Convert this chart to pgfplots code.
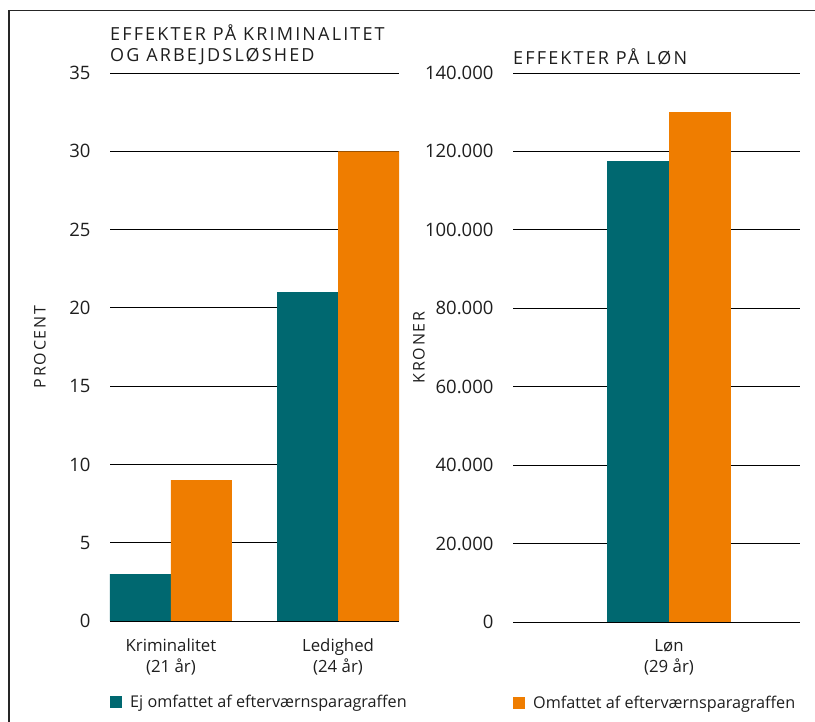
\documentclass[border=0pt]{standalone}
\usepackage{fontspec}
\setmainfont{Open Sans}
\newfontfamily\spaced[LetterSpace=12]{Open Sans}
\newfontfamily\wide[LetterSpace=11]{Open Sans}
\usepackage{pgfplots}
\pgfplotsset{compat=1.18}
\definecolor{teal1}{RGB}{0,104,112}
\definecolor{orng}{RGB}{239,125,0}
\definecolor{txt}{RGB}{30,30,30}
\pgfplotsset{
  common/.style={
    scale only axis,
    clip=false,
    axis line style={draw=none},
    major tick length=0pt,
    ymin=0,
    ymajorgrids,
    xmajorgrids=false,
    major grid style={black, line width=0.8pt},
    extra y tick style={grid style={black!60, line width=1.3pt}},
    /pgf/number format/assume math mode=true,
    yticklabel style={font=\fontsize{18.5}{21}\selectfont, text=txt, xshift=-16pt},
    xticklabel style={font=\fontsize{16.8}{21}\selectfont, text=txt, align=center, yshift=-14pt},
    legend style={draw=none, fill=none, at={(rel axis cs:0,0)}, anchor=west, yshift=-81pt,
      inner sep=0pt, font=\fontsize{16.2}{19}\selectfont, text=txt,
      /tikz/every odd column/.append style={column sep=6pt}},
    legend cell align=left,
    legend image code/.code={\fill[##1] (0pt,-6pt) rectangle (12pt,6pt);},
  }
}
\begin{document}
\begin{tikzpicture}
\path[use as bounding box] (0,0) rectangle (815pt,722pt);
\draw[line width=1.5pt, black!85] (9pt,0) -- (9pt,711.3pt) -- (815pt,711.3pt);

% left axis
\begin{axis}[common,
  at={(110pt,101pt)}, anchor=south west,
  width=289pt, height=548pt,
  xmin=-0.365, xmax=1.365,
  ymax=35, ytick={5,10,...,35}, extra y ticks={0},
  xtick={0,1}, xticklabels={{Kriminalitet\\(21 år)},{Ledighed\\(24 år)}},
]
\addplot[ybar, bar width=61pt, bar shift=-30.5pt, fill=teal1, draw=none] coordinates {(0,3) (1,21)};
\addlegendentry{Ej omfattet af efterværnsparagraffen}
\addplot[ybar, bar width=61pt, bar shift=30.5pt, fill=orng, draw=none, forget plot] coordinates {(0,9) (1,30)};
\node[anchor=south west, inner sep=0pt, align=left, text=txt,
  font=\spaced\fontsize{18}{20.5}\selectfont] at ([yshift=8pt]rel axis cs:0,1)
  {EFFEKTER PÅ KRIMINALITET\\OG ARBEJDSLØSHED};
\node[rotate=90, text=txt, font=\wide\fontsize{16}{19}\selectfont]
  at ([xshift=-70pt]rel axis cs:0,0.5) {PROCENT};
\end{axis}

% right axis
\begin{axis}[common,
  at={(513pt,100pt)}, anchor=south west,
  width=287pt, height=549pt,
  xmin=-1.56, xmax=1.31,
  ymax=140000, ytick={20000,40000,...,140000}, extra y ticks={0},
  scaled y ticks=false,
  yticklabel style={/pgf/number format/.cd, fixed, 1000 sep={.}},
  xtick={0}, xticklabels={{Løn\\(29 år)}},
]
\addplot[ybar, bar width=62pt, bar shift=-31pt, fill=teal1, draw=none, forget plot] coordinates {(0,117500)};
\addplot[ybar, bar width=62pt, bar shift=31pt, fill=orng, draw=none] coordinates {(0,130000)};
\addlegendentry{Omfattet af efterværnsparagraffen}
\node[anchor=south west, inner sep=0pt, align=left, text=txt,
  font=\spaced\fontsize{18}{20.5}\selectfont] at ([yshift=8pt]rel axis cs:0,1)
  {EFFEKTER PÅ LØN};
\node[rotate=90, text=txt, font=\wide\fontsize{16}{19}\selectfont]
  at ([xshift=-94pt]rel axis cs:0,0.5) {KRONER};
\end{axis}
\end{tikzpicture}
\end{document}
